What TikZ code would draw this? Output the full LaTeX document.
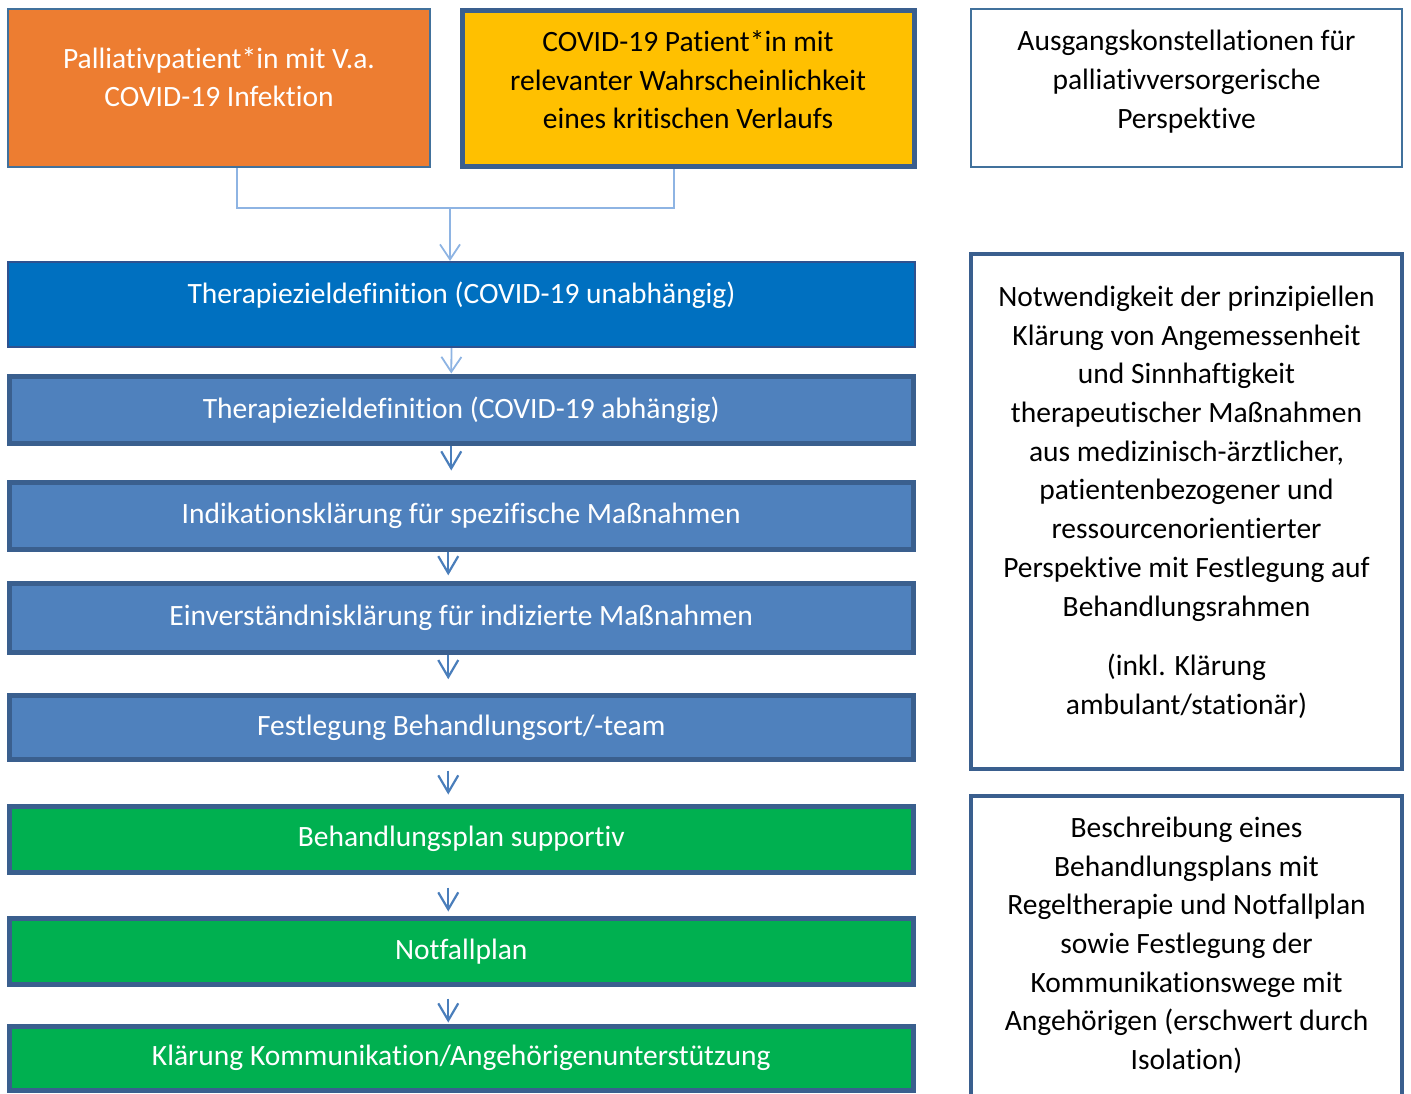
\documentclass[tikz,border=0pt]{standalone}
\usepackage{fontspec}
\setmainfont{Carlito}[Ligatures={NoCommon}]
\usepackage{tikz}
\usetikzlibrary{arrows.meta}

\definecolor{orangefill}{HTML}{ED7D31}
\definecolor{goldfill}{HTML}{FFC000}
\definecolor{deepblue}{HTML}{0070C0}
\definecolor{midblue}{HTML}{4F81BD}
\definecolor{greenfill}{HTML}{00B050}
\definecolor{frameblue}{HTML}{3A5F8E}
\definecolor{thinframe}{HTML}{41719C}
\definecolor{darkframe}{HTML}{2F528F}
\definecolor{paleline}{HTML}{8EB4E3}
\definecolor{arrowblue}{HTML}{4A7EBB}

\begin{document}
\begin{tikzpicture}[x=0.5pt,y=-0.5pt,font=\fontsize{14.75}{19.35}\selectfont,
    flowbox/.style={rectangle,draw=frameblue,line width=2.5pt,minimum width=452.25pt,text=white,inner sep=0pt},
    sidebox/.style={rectangle,draw=frameblue,line width=2pt,fill=white,minimum width=215.5pt},
    boxtext/.style={anchor=north,align=center,inner sep=0pt},
    feed/.style={draw=paleline,line width=0.9pt},
    flowarrow/.style={draw=arrowblue,line width=1.1pt,-{Straight Barb[length=8.5pt,width=10pt]}}]
  \useasboundingbox (0,0) rectangle (1411,1093);
  \clip (0,0) rectangle (1411,1093);

  \node[rectangle,draw=thinframe,line width=1.25pt,fill=orangefill,minimum width=211pt,minimum height=79pt,%
    label={[boxtext,text=white,yshift=-19.5pt]north:{Palliativpatient*in mit V.a.\\COVID-19 Infektion}}] (palli) at (219,88) {};
  \node[rectangle,draw=frameblue,line width=2.5pt,fill=goldfill,minimum width=226pt,minimum height=77.75pt,%
    label={[boxtext,yshift=-11pt]north:{COVID-19 Patient*in mit\\relevanter Wahrscheinlichkeit\\eines kritischen Verlaufs}}] (covid) at (688,88.25) {};
  \node[rectangle,draw=thinframe,line width=1pt,minimum width=215.5pt,minimum height=79pt,%
    label={[boxtext,yshift=-11pt]north:{Ausgangskonstellationen für\\palliativversorgerische\\Perspektive}}] (ausgang) at (1186.5,88) {};

  \node[rectangle,draw=darkframe,line width=1pt,fill=deepblue,minimum width=453.5pt,minimum height=42.5pt,%
    label={[boxtext,text=white,yshift=-10.5pt]north:{Therapiezieldefinition (COVID-19 unabhängig)}}] (tzunab) at (461.5,304.5) {};
  \node[flowbox,fill=midblue,minimum height=33.75pt] (tzabh) at (461.25,409.75) {Therapiezieldefinition (COVID-19 abhängig)};
  \node[flowbox,fill=midblue,minimum height=33.25pt] (indik) at (461.25,515.75) {Indikationsklärung für spezifische Maßnahmen};
  \node[flowbox,fill=midblue,minimum height=34.75pt] (einverst) at (461.25,617.75) {Einverständnisklärung für indizierte Maßnahmen};
  \node[flowbox,fill=midblue,minimum height=32pt] (ort) at (461.25,727.5) {Festlegung Behandlungsort/-team};
  \node[flowbox,fill=greenfill,minimum height=32.75pt] (plan) at (461.25,839.25) {Behandlungsplan supportiv};
  \node[flowbox,fill=greenfill,minimum height=33pt] (notfall) at (461.25,951.5) {Notfallplan};
  \node[flowbox,fill=greenfill,minimum height=31.75pt] (komm) at (461.25,1058.25) {Klärung Kommunikation/Angehörigenunterstützung};

  \node[sidebox,minimum height=257.5pt,%
    label={[boxtext,yshift=-17pt]north:{Notwendigkeit der prinzipiellen\\Klärung von Angemessenheit\\und Sinnhaftigkeit\\therapeutischer Maßnahmen\\aus medizinisch-ärztlicher,\\patientenbezogener und\\ressourcenorientierter\\Perspektive mit Festlegung auf\\Behandlungsrahmen\\[10.5pt](inkl. Klärung\\ambulant/stationär)}}] (klaerung) at (1186.5,511) {};
  \node[sidebox,minimum height=160pt,%
    label={[boxtext,yshift=-11.4pt]north:{Beschreibung eines\\Behandlungsplans mit\\Regeltherapie und Notfallplan\\sowie Festlegung der\\Kommunikationswege mit\\Angehörigen (erschwert durch\\Isolation)}}] (beschreib) at (1186.5,955.7) {};

  \coordinate (junc) at (450,208);
  \draw[feed] ([xshift=9pt]palli.south) |- (junc) -| ([xshift=-7pt]covid.south);
  \draw[feed,-{Straight Barb[length=7.5pt,width=10pt]}] (junc) -- (junc |- tzunab.north);
  \draw[feed,-{Straight Barb[length=7.5pt,width=10pt]}] ([xshift=-5pt]tzunab.south) -- ([xshift=-5pt]tzabh.north);
  \draw[flowarrow,shorten >=4.75pt] ([xshift=-5pt]tzabh.south) -- ([xshift=-5pt]indik.north);
  \draw[flowarrow,shorten >=2.6pt] ([xshift=-6.5pt]indik.south) -- ([xshift=-6.5pt]einverst.north);
  \draw[flowarrow,shorten >=6.9pt] ([xshift=-6.5pt]einverst.south) -- ([xshift=-6.5pt]ort.north);
  \draw[flowarrow,shorten <=4.25pt,shorten >=4.75pt] ([xshift=-6.5pt]ort.south) -- ([xshift=-6.5pt]plan.north);
  \draw[flowarrow,shorten <=6.5pt,shorten >=2.25pt] ([xshift=-6.5pt]plan.south) -- ([xshift=-6.5pt]notfall.north);
  \draw[flowarrow,shorten <=5.75pt,shorten >=0.75pt] ([xshift=-6.5pt]notfall.south) -- ([xshift=-6.5pt]komm.north);
\end{tikzpicture}
\end{document}
